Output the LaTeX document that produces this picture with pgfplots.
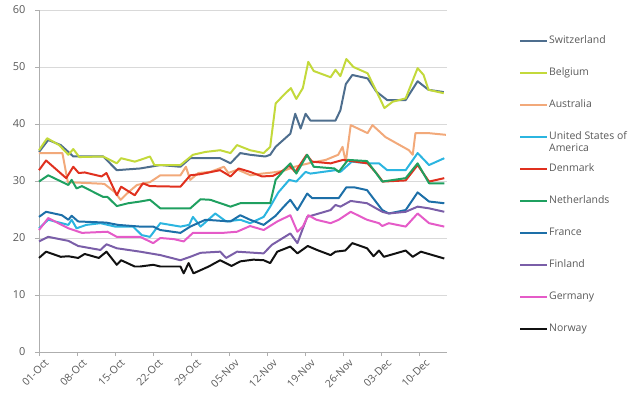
\documentclass[border=0pt]{standalone}
\usepackage{fontspec}
\setmainfont{Open Sans}
\usepackage{pgfplots}
\pgfplotsset{compat=1.18}
\definecolor{cSwi}{HTML}{4E6E8E}
\definecolor{cBel}{HTML}{C3D93B}
\definecolor{cAus}{HTML}{F2A97A}
\definecolor{cUSA}{HTML}{2BB5E0}
\definecolor{cDen}{HTML}{E0301E}
\definecolor{cNet}{HTML}{1FA060}
\definecolor{cFra}{HTML}{1D6FA8}
\definecolor{cFin}{HTML}{7A5EA8}
\definecolor{cGer}{HTML}{E55BC8}
\definecolor{cNor}{HTML}{111111}
\definecolor{tickgray}{HTML}{595959}
\definecolor{gridgray}{HTML}{D9D9D9}
\begin{document}
\begin{tikzpicture}
\path[use as bounding box] (0,0) rectangle (640bp,416bp);
\begin{axis}[
  at={(39bp,64bp)}, anchor=south west,
  scale only axis, width=408bp, height=342bp,
  xmin=0, xmax=75, ymin=0, ymax=60,
  axis x line*=bottom, axis y line*=left,
  axis line style={draw=gridgray!80!black, line width=0.8pt},
  ytick={0,10,...,60},
  ymajorgrids, grid style={gridgray, line width=0.8pt},
  xtick={0,7,...,70},
  xticklabels={01-Oct,08-Oct,15-Oct,22-Oct,29-Oct,05-Nov,12-Nov,19-Nov,26-Nov,03-Dec,10-Dec},
  tick align=outside, major tick length=4bp,
  tick style={draw=gridgray!80!black, line width=0.8pt},
  x tick label style={rotate=45, anchor=north east, font=\fontsize{10.5}{12}\selectfont, text=tickgray, inner sep=1pt, yshift=-4bp, xshift=3bp},
  y tick label style={font=\fontsize{11}{12}\selectfont, text=tickgray, xshift=-6bp},
  /pgf/number format/assume math mode=true,
  every axis plot/.append style={line width=2pt, no markers, line join=round},
  legend image code/.code={\draw[#1] (0bp,0bp) -- (27bp,0bp);},
  legend cell align=left,
  legend style={draw=none, fill=none, at={(axis description cs:1.169,0.933)}, anchor=north west,
    font=\fontsize{10.5}{12}\selectfont, text=tickgray, row sep=21bp, column sep=1bp,
    nodes={inner sep=0pt, text height=8bp, text depth=3bp}},
  clip=false,
]
% Switzerland
\addplot[cSwi] coordinates {(0,35.1)(1.7,37.2)(4,36.3)(5.4,35.1)(6.3,34.3)(11.8,34.3)(14.3,31.9)(18.6,32.2)(22.3,32.8)(26,32.5)(27.8,34)(33.3,34)(35.2,33.1)(37,34.9)(38.8,34.6)(41.6,34.3)(42.5,34.6)(43.5,36)(46.2,38.3)(47.1,41.8)(48.1,39.2)(49,41.8)(49.9,40.6)(54.5,40.6)(55.4,42.4)(56.4,47)(57.6,48.6)(60.4,48)(62,45.7)(64,44.2)(67.4,44.2)(69.6,47.5)(71.6,46)(74.4,45.6)};
\addlegendentry{Switzerland}
% Belgium
\addplot[cBel] coordinates {(0,35.4)(1.5,37.5)(3.7,36.3)(5.4,34.6)(6.3,35.6)(7.4,34.2)(11.8,34.3)(14.3,33.1)(15.1,34)(17.6,33.4)(18.6,33.7)(20.4,34.3)(21.2,32.8)(26,32.8)(28.3,34.6)(30.6,35.1)(33.3,35.4)(35.2,34.9)(36.4,36.3)(38.8,35.4)(41.3,34.9)(42.5,36)(43.5,43.6)(45,45.1)(46.3,46.3)(47.3,44.4)(48.5,46.3)(49.5,50.9)(50.5,49.3)(53.6,48.2)(54.5,49.5)(55.4,48.4)(56.5,51.4)(57.8,50)(60.4,48.9)(62.2,45.4)(63.5,42.8)(65,43.9)(67.4,44.5)(69.6,49.8)(70.7,48.6)(71.6,46)(74.4,45.4)};
\addlegendentry{Belgium}
% Australia
\addplot[cAus] coordinates {(0,34.9)(1.5,34.9)(4.3,34.9)(5.3,29.8)(12,29.5)(14,28)(15,26.7)(16.4,28)(18,29.3)(20.4,29.8)(22.3,31)(26,31)(27,32.5)(27.8,30.2)(29.3,31.4)(31.5,31.6)(34,32.5)(34.8,31.4)(36.5,32)(38.9,31)(41,31.3)(43,31.5)(45,31.8)(47,32.5)(50,33.2)(52.7,33.7)(55,34.6)(55.8,36)(56.4,33.3)(57.3,39.8)(60.4,38.4)(61.3,39.8)(63.7,37.7)(68,35.4)(68.7,34.6)(69.2,38.4)(71.6,38.4)(74.8,38.1)};
\addlegendentry{Australia}
% USA
\addplot[cUSA] coordinates {(0,21.7)(1.7,23.2)(5.4,22.3)(6,23.2)(6.9,21.7)(8.7,22.3)(11.3,22.6)(14,22)(17.3,22)(18.9,20.5)(20.4,20.2)(22.3,22.6)(26,22)(27.6,22.3)(28.3,23.7)(29.7,22)(32.4,24.3)(34.4,22.9)(37,23.2)(38.8,22.6)(41.3,23.7)(42.5,25.5)(44,28)(46,30.2)(47.3,29.9)(49,31.6)(49.9,31.3)(54.5,31.9)(55.4,31.6)(57.5,33.4)(60.4,33.1)(62.5,33.1)(64,31.9)(67.4,31.9)(69.6,34.9)(71.7,32.8)(74.5,34)};
\addlegendentry{\parbox[t]{90bp}{United States of\\[0bp]America}}
% Denmark
\addplot[cDen] coordinates {(0,31.9)(1.3,33.6)(5,30.5)(6.3,32.5)(7.3,31.4)(8.4,31.5)(11.5,30.8)(12.4,31.4)(14.3,27.5)(15.1,29)(17.6,27.5)(19.1,29.6)(20.4,29.1)(26,29)(27.8,31)(29.7,31.2)(33.3,31.9)(35.2,30.8)(36.7,32.2)(38.8,31.6)(41,30.8)(43,30.9)(44.5,31.6)(46,32.7)(47.1,31.6)(49.2,34.6)(50.2,33.4)(53.6,33.1)(55.9,33.7)(60.4,33.1)(62,31.4)(63.2,29.9)(67.4,30.1)(69.6,32.8)(71.7,29.9)(74.5,30.5)};
\addlegendentry{Denmark}
% Netherlands
\addplot[cNet] coordinates {(0,29.9)(1.7,31)(5.4,29.3)(6,30.2)(6.9,28.7)(7.9,29.1)(11.8,27.2)(12.6,27.2)(14.3,25.6)(16.4,26.1)(18.6,26.4)(20.4,26.7)(22.3,25.2)(27.8,25.2)(29.7,26.8)(31.5,26.7)(35.2,25.5)(37,26.1)(42.5,26.1)(43.5,30.2)(45.3,32.2)(46.2,33.1)(47.3,31.3)(49.3,34.6)(50.5,32.5)(54.3,32.2)(55.1,31.6)(56.8,33.7)(60.3,33.5)(61.8,31.6)(63.1,29.9)(67.4,30.5)(69.6,33.1)(71.7,29.6)(74.5,29.6)};
\addlegendentry{Netherlands}
% France
\addplot[cFra] coordinates {(0,23.7)(1.3,24.6)(4.2,24)(5.4,23.2)(6,23.9)(7.2,22.9)(12.4,22.7)(14.5,22.3)(18.6,22)(21,22)(22.3,21.4)(26,20.9)(27.8,22)(30.6,23.2)(35.2,22.9)(37,24)(38.8,23.2)(41.3,22.3)(43.5,23.9)(45,25.5)(46.2,26.7)(47.5,24.9)(49.3,27.8)(50.2,27)(55.1,27)(56.5,28.9)(57.9,28.9)(60.3,28.4)(63.1,24.9)(64.3,24.3)(67.4,24.9)(69.6,28)(71.7,26.4)(74.5,26.1)};
\addlegendentry{France}
% Finland
\addplot[cFin] coordinates {(0,19.4)(1.7,20.2)(5.4,19.5)(7.2,18.6)(11.3,17.9)(12.4,18.9)(14.3,18.2)(18.6,17.6)(22.3,17)(26,16.1)(27.8,16.7)(29.7,17.4)(33.3,17.6)(34.4,16.5)(36.4,17.6)(41.3,17.3)(42.8,18.8)(46.2,20.8)(47.5,19.1)(49.3,23.7)(53.6,24.9)(54.5,25.8)(55.4,25.5)(57.3,26.5)(60.3,26.1)(63.1,24.6)(64.3,24.3)(67.4,24.6)(69.6,25.5)(71.7,25.2)(74.5,24.6)};
\addlegendentry{Finland}
% Germany
\addplot[cGer] coordinates {(0,21.4)(1.7,23.5)(5.4,21.7)(7.9,20.9)(12.6,21.1)(14.3,20.2)(18.6,20.2)(21,19.1)(22.3,20)(24.8,19.8)(26.6,19.4)(28.3,20.9)(33.8,20.9)(36.4,21.1)(38.8,22.1)(41.3,21.4)(43.8,22.9)(46.2,24)(47.5,21.1)(48.5,22)(49.5,24)(51,23.2)(53.6,22.6)(55.1,23.2)(57.3,24.6)(60.3,23.2)(62.5,22.6)(63.1,22.1)(64.3,22.6)(67.4,22)(69.6,24.3)(71.7,22.6)(74.5,22)};
\addlegendentry{Germany}
% Norway
\addplot[cNor] coordinates {(0,16.5)(1.3,17.6)(4,16.7)(5.4,16.8)(7.2,16.5)(8.4,17.2)(11,16.5)(12.4,17.6)(14.3,15.3)(15.1,16.1)(17.6,15)(18.6,15)(21,15.3)(22.3,15)(26,15)(26.6,13.8)(27.5,15.6)(28.4,13.8)(31.2,15)(33.3,16.1)(35.4,15.1)(37,15.9)(39.4,16.2)(41.3,16.1)(42.5,15.6)(43.8,17.6)(46.2,18.5)(47.5,17.3)(49.4,18.6)(51.1,17.9)(53.6,17)(54.5,17.6)(56.3,17.8)(57.6,19.1)(60.3,18.2)(61.5,16.8)(62.5,17.8)(63.4,16.7)(67.4,17.8)(68.7,16.7)(70.2,17.6)(74.5,16.4)};
\addlegendentry{Norway}
\end{axis}
\end{tikzpicture}
\end{document}
